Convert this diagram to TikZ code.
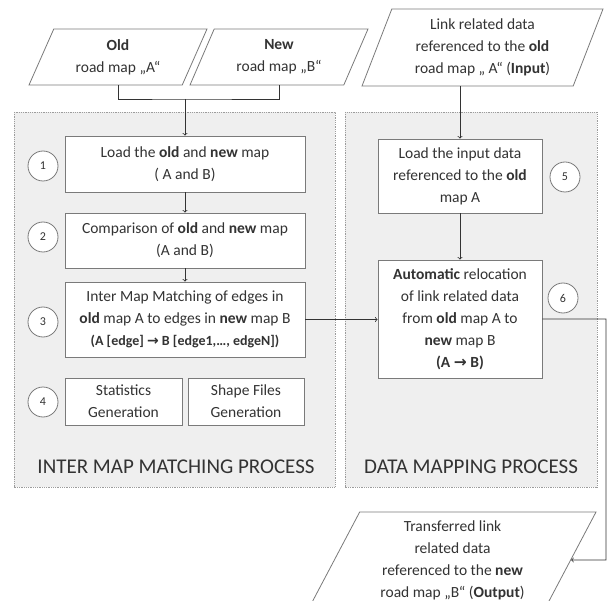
\documentclass[tikz,border=0pt]{standalone}
\usepackage{fontspec}
\setmainfont{Carlito}
\newfontfamily\arrowfont{DejaVu Sans}
\usetikzlibrary{shapes.geometric}
\definecolor{inkgray}{HTML}{333333}
\definecolor{linegray}{HTML}{7A7A7A}
\definecolor{panelgray}{HTML}{EFEFEF}
\definecolor{dotgray}{HTML}{9C9C9C}
\newcommand{\maparrow}{{\arrowfont\bfseries →}}
\begin{document}
\begin{tikzpicture}[x=1pt,y=1pt]
            \tikzstyle{every node}+=[inner sep=0pt, text=inkgray, font=\fontsize{15.5}{22}\selectfont]
            \tikzstyle{stepbox}=[rectangle, draw=linegray, fill=white, align=center, line width=0.8pt]
            \tikzstyle{databox}=[trapezium, trapezium stretches body, draw=linegray, fill=white, align=center, line width=0.8pt]
            \tikzstyle{stepnum}=[circle, draw=linegray, fill=white, minimum size=30, line width=0.8pt, font=\fontsize{12}{14}\selectfont]
            \tikzstyle{panel}=[draw=dotgray, fill=panelgray, densely dotted, line width=0.8pt]
            \tikzstyle{flow}=[->, draw=inkgray, line width=0.8pt]
            \useasboundingbox (0,0) rectangle (607,-601);
            % process panels
            \draw [panel] (14,-112) rectangle (335,-487);
            \draw [panel] (345,-112) rectangle (597,-487);
            \node (immtitle) at (176,-467) {\fontsize{21}{25}\selectfont INTER MAP MATCHING PROCESS};
            \node (dmtitle) at (471,-467) {\fontsize{21}{25}\selectfont DATA MAPPING PROCESS};
            % input data
            \node [databox, trapezium left angle=55, trapezium right angle=125, minimum width=178, minimum height=56] (old) at (118,-57) {\textbf{Old}\\road map „A“};
            \node [databox, trapezium left angle=55, trapezium right angle=125, minimum width=178, minimum height=56] (new) at (279,-57) {\textbf{New}\\road map „B“};
            \node [databox, trapezium left angle=62.5, trapezium right angle=117.5, minimum width=241, minimum height=77] (input) at (482.5,-47.5) {Link related data\\referenced to the \textbf{old}\\road map „ A“ (\textbf{Input})};
            % inter map matching
            \node [stepbox, minimum width=240, minimum height=56] (load) at (185,-164) {Load the \textbf{old} and \textbf{new} map\\( A and B)};
            \node [stepbox, minimum width=240, minimum height=55] (compare) at (185,-240.5) {Comparison of \textbf{old} and \textbf{new} map\\(A and B)};
            \node [stepbox, minimum width=240, minimum height=75] (match) at (185,-319.5) {Inter Map Matching of edges in\\\textbf{old} map A to edges in \textbf{new} map B\\{\fontsize{14}{18}\selectfont\textbf{(A [edge] \maparrow{} B [edge1,…, edgeN])}}};
            \node [stepbox, minimum width=117, minimum height=47] (stats) at (123.5,-401.5) {Statistics\\Generation};
            \node [stepbox, minimum width=116, minimum height=47] (shapes) at (246,-401.5) {Shape Files\\Generation};
            % data mapping
            \node [stepbox, minimum width=164, minimum height=74] (loadin) at (460,-176) {Load the input data\\referenced to the \textbf{old}\\map A};
            \node [stepbox, minimum width=164, minimum height=118] (relocate) at (460,-319) {\textbf{Automatic} relocation\\of link related data\\from \textbf{old} map A to\\\textbf{new} map B\\\textbf{(A \maparrow{} B)}};
            \node [databox, trapezium left angle=57.4, trapezium right angle=122.6, minimum width=287, minimum height=96] (output) at (452.5,-560) {Transferred link\\related data\\referenced to the \textbf{new}\\road map „B“ (\textbf{Output})};
            % step numbers
            \node [stepnum] (n1) at (43,-166) {1};
            \node [stepnum] (n2) at (43,-237) {2};
            \node [stepnum] (n3) at (43,-322) {3};
            \node [stepnum] (n4) at (43,-402) {4};
            \node [stepnum] (n5) at (565,-177) {5};
            \node [stepnum] (n6) at (563,-298) {6};
            % connectors
            \coordinate (join) at (185,-99);
            \coordinate (turn) at (606,-560);
            \draw [draw=inkgray, line width=0.8pt] (old.center |- old.south) |- (join) -| (new.south);
            \draw [flow] (join) -- (load.north);
            \draw [flow] (load.south) -- (compare.north);
            \draw [flow] (compare.south) -- (match.north);
            \draw [flow] (match.east) -- (match.east -| relocate.west);
            \draw [flow] (loadin.north |- input.south) -- (loadin.north);
            \draw [flow] (loadin.south) -- (relocate.north);
            \draw [flow] (relocate.east) -| (turn) -- (output);
\end{tikzpicture}
\end{document}
